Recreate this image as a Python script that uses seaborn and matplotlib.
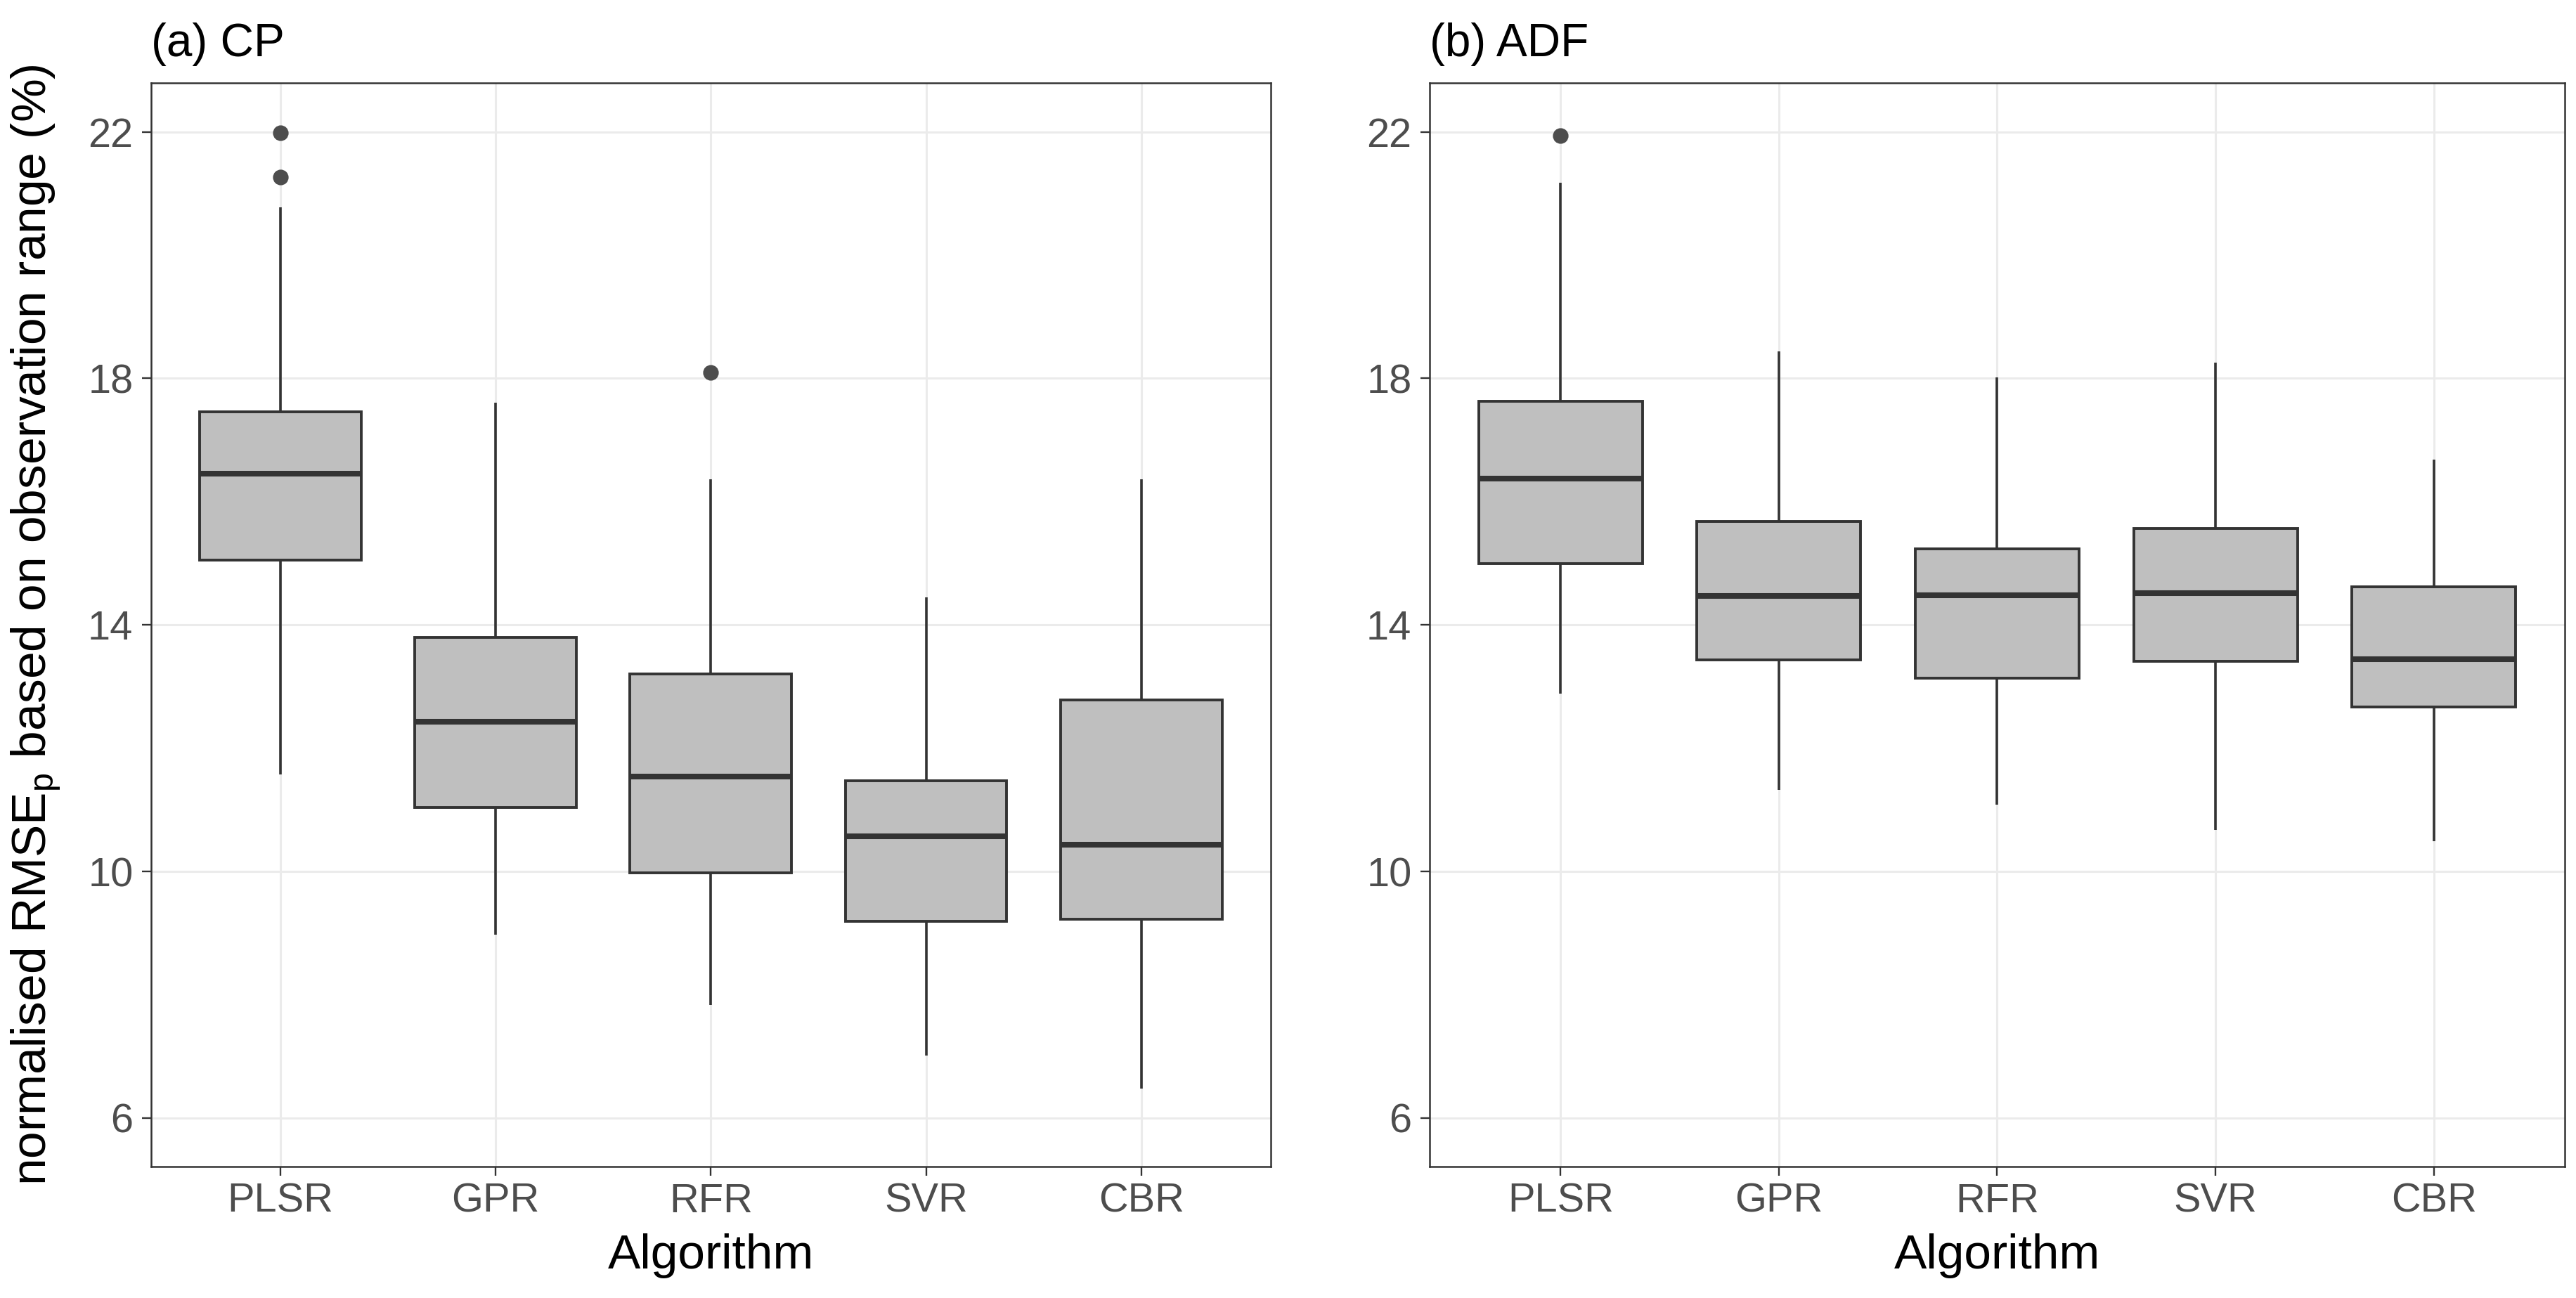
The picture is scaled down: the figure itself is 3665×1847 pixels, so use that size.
import matplotlib
matplotlib.use("Agg")
import matplotlib.pyplot as plt
import pandas as pd
import seaborn as sns

ALGORITHMS = ["PLSR", "GPR", "RFR", "SVR", "CBR"]
PANEL_TITLES = ["(a) CP", "(b) ADF"]
Y_TICKS = [6, 10, 14, 18, 22]

# normalised RMSEp (%) per algorithm, crude protein
cp_plsr = [11.58, 13.9, 14.6, 15.05, 15.6, 16.1, 16.45, 16.8, 17.2, 17.46, 20.78, 21.27, 21.98]
cp_gpr = [8.98, 10.2, 11.04, 11.8, 12.43, 13.1, 13.80, 15.6, 17.61]
cp_rfr = [7.84, 9.1, 9.98, 10.8, 11.54, 12.3, 13.20, 16.36, 18.10]
cp_svr = [7.01, 8.3, 9.19, 9.9, 10.57, 11.0, 11.47, 12.9, 14.45]
cp_cbr = [6.48, 8.1, 9.23, 9.9, 10.43, 11.6, 12.78, 14.5, 16.36]

# normalised RMSEp (%) per algorithm, acid detergent fibre
adf_plsr = [12.89, 14.1, 14.99, 15.7, 16.37, 17.0, 17.63, 21.18, 21.94]
adf_gpr = [11.32, 12.5, 13.43, 14.0, 14.47, 15.1, 15.68, 16.9, 18.44]
adf_rfr = [11.09, 12.3, 13.14, 13.8, 14.48, 14.9, 15.24, 16.5, 18.02]
adf_svr = [10.67, 12.2, 13.41, 14.0, 14.52, 15.0, 15.56, 16.8, 18.26]
adf_cbr = [10.49, 11.7, 12.67, 13.1, 13.44, 14.1, 14.62, 15.6, 16.68]


def to_long(groups):
    rows = []
    for name, values in zip(ALGORITHMS, groups):
        rows.extend({"Algorithm": name, "value": v} for v in values)
    return pd.DataFrame(rows)


cp_df = to_long([cp_plsr, cp_gpr, cp_rfr, cp_svr, cp_cbr])
adf_df = to_long([adf_plsr, adf_gpr, adf_rfr, adf_svr, adf_cbr])

sns.set_theme(style="whitegrid")
plt.rcParams["font.family"] = ["Liberation Sans", "DejaVu Sans"]
plt.rcParams["axes.edgecolor"] = "#333333"
plt.rcParams["axes.linewidth"] = 0.9
plt.rcParams["grid.color"] = "#EBEBEB"
plt.rcParams["grid.linewidth"] = 1.1

fig = plt.figure(figsize=(18.33, 9.235), dpi=200)
ax_a = fig.add_axes([0.05865, 0.10124, 0.43442, 0.83498])
ax_b = fig.add_axes([0.55483, 0.10124, 0.44053, 0.83498])

for ax, df, title in zip([ax_a, ax_b], [cp_df, adf_df], PANEL_TITLES):
    sns.boxplot(
        data=df, x="Algorithm", y="value", order=ALGORITHMS, ax=ax,
        color="#BFBFBF", saturation=1, width=0.75, linecolor="#333333",
        linewidth=1.4,
        medianprops={"linewidth": 2.9, "color": "#333333"},
        whiskerprops={"linewidth": 1.3},
        capprops={"linewidth": 0},
        flierprops={"marker": "o", "markersize": 7, "markerfacecolor": "#4D4D4D",
                    "markeredgecolor": "#4D4D4D"},
    )
    ax.set_xlim(-0.6, 4.6)
    ax.set_ylim(5.213, 22.796)
    ax.set_yticks(Y_TICKS)
    ax.xaxis.grid(True)
    ax.yaxis.grid(True)
    ax.set_axisbelow(True)
    for spine in ax.spines.values():
        spine.set_visible(True)
        spine.set_color("#333333")
        spine.set_linewidth(0.9)
    ax.tick_params(axis="both", bottom=True, left=True, length=4.7, width=0.85,
                   color="#333333", labelcolor="#4D4D4D", labelsize=20.8)
    ax.tick_params(axis="y", pad=4.5)
    ax.tick_params(axis="x", pad=3.5)
    ax.set_title(title, loc="left", fontsize=23.7, color="black", pad=13.6)
    ax.set_xlabel("Algorithm", fontsize=25, color="black")
    ax.xaxis.set_label_coords(0.5, -0.0616)
    ax.set_ylabel("")

ax_a.set_ylabel("normalised RMSE$_\\mathregular{p}$ based on observation range (%)",
                fontsize=25, color="black")
ax_a.yaxis.set_label_coords(-0.0791, 0.5)

fig.savefig("out.png", dpi=200)
